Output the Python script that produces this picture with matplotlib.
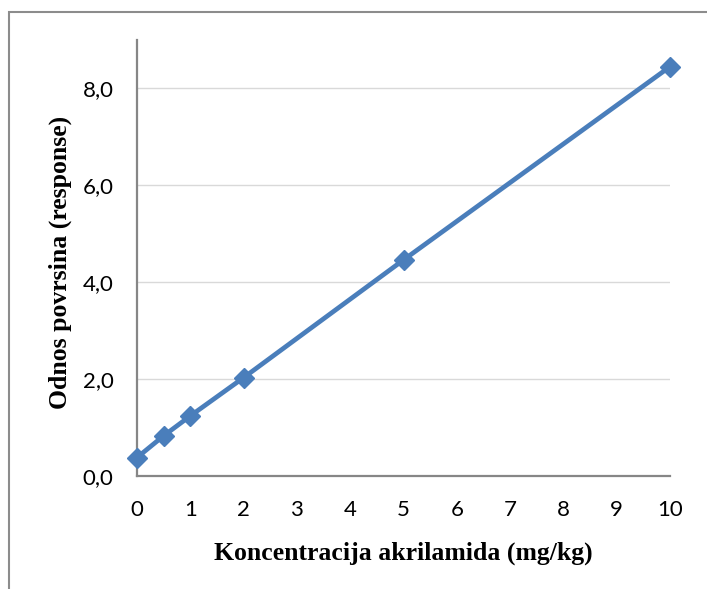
import matplotlib
import matplotlib.pyplot as plt
from matplotlib.patches import Rectangle

matplotlib.use("Agg")

# Calibration data: acrylamide concentration vs. peak area ratio
concentration = [0, 0.5, 1, 2, 5, 10]
response = [0.38, 0.83, 1.24, 2.03, 4.46, 8.45]
y_ticks = [0, 2, 4, 6, 8]
y_tick_labels = ["0,0", "2,0", "4,0", "6,0", "8,0"]
x_ticks = list(range(0, 11))

fig = plt.figure(figsize=(7.07, 5.89), dpi=100)
ax = fig.add_axes([0.1938, 0.1919, 0.7539, 0.7402])

# chart frame (only top/left edges fall inside the image)
fig.patches.append(Rectangle((9 / 707, -0.1), 1.2, (589 - 12) / 589 + 0.1,
                             transform=fig.transFigure, fill=False,
                             edgecolor="#8c8c8c", linewidth=1.5))

ax.plot(concentration, response, color="#4a7ebb", linewidth=3.4,
        marker="D", markersize=10, markeredgecolor="#4a7ebb",
        clip_on=False, zorder=3)

ax.set_xlim(0, 10)
ax.set_ylim(0, 9)
ax.set_xticks(x_ticks)
ax.set_yticks(y_ticks)
ax.set_yticklabels(y_tick_labels)
ax.tick_params(length=0, labelsize=16)
ax.tick_params(axis="x", pad=17)
ax.tick_params(axis="y", pad=17)
for lbl in ax.get_xticklabels() + ax.get_yticklabels():
    lbl.set_family("Lato")

ax.yaxis.grid(True, color="#d9d9d9", linewidth=1)
ax.set_axisbelow(True)
for side in ("top", "right"):
    ax.spines[side].set_visible(False)
for side in ("left", "bottom"):
    ax.spines[side].set_color("#868686")
    ax.spines[side].set_linewidth(1.6)

ax.set_xlabel("Koncentracija akrilamida (mg/kg)", family="Liberation Serif",
              fontweight="bold", fontsize=18.5, labelpad=16)
ax.set_ylabel("Odnos povrsina (response)", family="Liberation Serif",
              fontweight="bold", fontsize=18.5)
ax.yaxis.set_label_coords(-0.122, 0.49)

fig.savefig("out.png", dpi=100)
